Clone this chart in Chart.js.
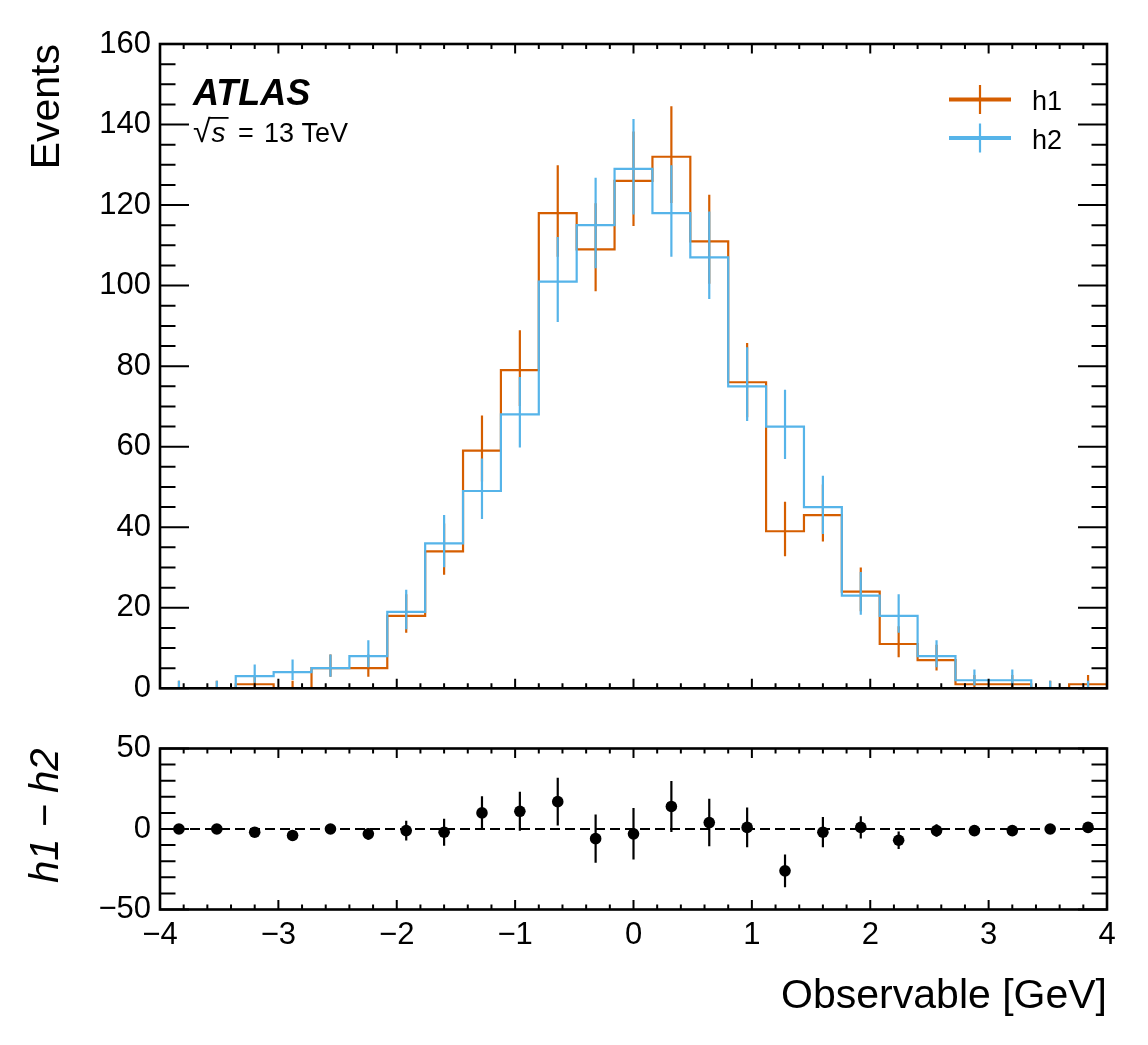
<!DOCTYPE html>
<html>
<head>
<meta charset="utf-8">
<title>h1 vs h2</title>
<script src="https://cdn.jsdelivr.net/npm/chart.js@4.4.1/dist/chart.umd.min.js"></script>
<style>
  html, body { margin: 0; padding: 0; background: #fff; }
  #wrap { position: relative; width: 1148px; height: 1045px; }
  canvas { position: absolute; left: 0; }
  #main-chart { top: 0; }
  #diff-chart { top: 700px; }
</style>
</head>
<body>
<div id="wrap">
  <canvas id="main-chart" width="1148" height="700"></canvas>
  <canvas id="diff-chart" width="1148" height="345"></canvas>
</div>
<script>
// bins of the observable, GeV
const binEdges = [-4.00, -3.68, -3.36, -3.04, -2.72, -2.40, -2.08, -1.76, -1.44, -1.12, -0.80, -0.48, -0.16,
                  0.16, 0.48, 0.80, 1.12, 1.44, 1.76, 2.08, 2.40, 2.72, 3.04, 3.36, 3.68, 4.00];
const h1Counts = [0, 0, 1, 0, 5, 5, 18, 34, 59, 79, 118, 109, 126, 132, 111, 76, 39, 43, 24, 11, 7, 1, 1, 0, 1];
const h2Counts = [0, 0, 3, 4, 5, 8, 19, 36, 49, 68, 101, 115, 129, 118, 107, 75, 65, 45, 23, 18, 8, 2, 2, 0, 0];
const seriesNames = ['h1', 'h2'];
const xTicks = [-4, -3, -2, -1, 0, 1, 2, 3, 4];
const eventsTicks = [0, 20, 40, 60, 80, 100, 120, 140, 160];
const diffTicks = [-50, 0, 50];

const seriesColors = ['#d55e00', '#56b4e9'];
const FONT = '"Liberation Sans", Arial, Helvetica, sans-serif';
const PLOT_LEFT = 160;
const PLOT_RIGHT_PAD = 41;

Chart.defaults.color = '#000';
Chart.defaults.font.family = FONT;

const binCenters = binEdges.slice(0, -1).map((e, i) => (e + binEdges[i + 1]) / 2);

function stepPoints(counts) {
    const pts = counts.map((c, i) => ({ x: binEdges[i], y: c }));
    pts.push({ x: binEdges[binEdges.length - 1], y: counts[counts.length - 1] });
    return pts;
}

// 68% Poisson interval, Gehrels approximation
function poissonUp(n) { return n + Math.sqrt(n + 0.75) + 1; }
function poissonDown(n) { return n === 0 ? 0 : n * Math.pow(1 - 1 / (9 * n) - 1 / (3 * Math.sqrt(n)), 3); }

function errorSegments(lo, hi) {
    const pts = [];
    binCenters.forEach((c, i) => {
        pts.push({ x: c, y: lo[i] }, { x: c, y: hi[i] }, { x: c, y: null });
    });
    return pts;
}

const minusSign = v => String(v).replace('-', '\u2212');

function isMultiple(v, step) {
    return Math.abs(v / step - Math.round(v / step)) < 1e-6;
}

// keep the plot frame where the layout padding puts it (no room for label overflow)
function fixWidth(s) {
    s.width = PLOT_LEFT;
    s.paddingTop = 0;
    s.paddingBottom = 0;
}

// inward ticks on all four sides plus the frame
const frameTicks = {
    id: 'frameTicks',
    afterDatasetsDraw(chart, args, opts) {
        const { ctx, chartArea: a } = chart;
        const x = chart.scales.x, y = chart.scales.y;
        ctx.save();
        ctx.strokeStyle = '#000';
        ctx.lineWidth = 2;
        ctx.beginPath();
        for (let i = 0; ; i++) {
            const v = x.min + i * opts.xMinor;
            if (v > x.max + 1e-9) break;
            const px = x.getPixelForValue(v);
            const len = isMultiple(v, opts.xMajor) ? 9.5 : 5;
            ctx.moveTo(px, a.bottom); ctx.lineTo(px, a.bottom - len);
            ctx.moveTo(px, a.top); ctx.lineTo(px, a.top + len);
        }
        for (let i = 0; ; i++) {
            const v = y.min + i * opts.yMinor;
            if (v > y.max + 1e-9) break;
            const py = y.getPixelForValue(v);
            const len = isMultiple(v, opts.yMajor) ? 29 : 15.5;
            ctx.moveTo(a.left, py); ctx.lineTo(a.left + len, py);
            ctx.moveTo(a.right, py); ctx.lineTo(a.right - len, py);
        }
        ctx.stroke();
        ctx.lineWidth = 2.6;
        ctx.strokeRect(a.left, a.top, a.right - a.left, a.bottom - a.top);
        ctx.restore();
    }
};

const topLabels = {
    id: 'topLabels',
    afterDraw(chart) {
        const ctx = chart.ctx;
        ctx.save();
        ctx.fillStyle = '#000';
        ctx.textBaseline = 'alphabetic';
        ctx.textAlign = 'left';

        ctx.font = `italic bold 36px ${FONT}`;
        ctx.fillText('ATLAS', 193, 105);

        // sqrt(s) = 13 TeV
        const base = 142;
        ctx.font = `32px ${FONT}`;
        ctx.fillText('\u221a', 193, base);
        const wRoot = ctx.measureText('\u221a').width;
        ctx.font = `italic 28px ${FONT}`;
        const sx = 193 + wRoot + 1;
        ctx.fillText('s', sx, base);
        const wS = ctx.measureText('s').width;
        ctx.fillRect(sx - 3, base - 25, wS + 6, 1.8);
        ctx.font = `27px ${FONT}`;
        ctx.fillText('=', 238, base);
        ctx.fillText('13 TeV', 264, base);

        // legend
        seriesNames.forEach((name, i) => {
            const yl = 99.5 + i * 38.5;
            ctx.strokeStyle = seriesColors[i];
            ctx.lineWidth = 4;
            ctx.beginPath(); ctx.moveTo(949, yl); ctx.lineTo(1011, yl); ctx.stroke();
            ctx.lineWidth = 2.2;
            ctx.beginPath(); ctx.moveTo(980, yl - 14.5); ctx.lineTo(980, yl + 14.5); ctx.stroke();
            ctx.font = `27px ${FONT}`;
            ctx.fillText(name, 1032, yl + 10.5);
        });
        ctx.restore();
    }
};

function histDatasets(counts, color, name, order) {
    return [
        {
            label: name + ' err',
            data: errorSegments(counts.map(poissonDown), counts.map(poissonUp)),
            borderColor: color,
            spanGaps: false,
            order: order
        },
        {
            label: name,
            data: stepPoints(counts),
            borderColor: color,
            stepped: true,
            order: order + 1
        }
    ];
}

const mainChart = new Chart(document.getElementById('main-chart'), {
    type: 'line',
    data: {
        datasets: [
            ...histDatasets(h2Counts, seriesColors[1], seriesNames[1], 0),
            ...histDatasets(h1Counts, seriesColors[0], seriesNames[0], 2)
        ]
    },
    options: {
        responsive: false,
        animation: false,
        layout: { padding: { top: 44, right: PLOT_RIGHT_PAD, bottom: 11.7, left: 0 } },
        elements: {
            point: { radius: 0, hoverRadius: 0 },
            line: { borderWidth: 2.2, fill: false, tension: 0, borderCapStyle: 'butt', borderJoinStyle: 'miter' }
        },
        plugins: {
            legend: { display: false },
            tooltip: { enabled: false },
            frameTicks: { xMajor: 1, xMinor: 0.2, yMajor: 20, yMinor: 5 }
        },
        scales: {
            x: { type: 'linear', min: -4, max: 4, display: false },
            y: {
                type: 'linear', min: 0, max: 160,
                afterFit: fixWidth,
                afterBuildTicks: s => { s.ticks = eventsTicks.map(v => ({ value: v })); },
                grid: { display: false, drawTicks: false },
                border: { display: false },
                ticks: { font: { size: 31 }, padding: 9, callback: minusSign },
                title: { display: true, text: 'Events', align: 'end', font: { size: 41 }, padding: { top: 23, bottom: 0 } }
            }
        }
    },
    plugins: [frameTicks, topLabels]
});

const diffValues = h1Counts.map((v, i) => v - h2Counts[i]);
const diffErrors = h1Counts.map((v, i) => Math.sqrt(v + h2Counts[i]));

const diffChart = new Chart(document.getElementById('diff-chart'), {
    type: 'line',
    data: {
        datasets: [
            {
                label: 'h1 \u2212 h2',
                data: binCenters.map((c, i) => ({ x: c, y: diffValues[i] })),
                showLine: false,
                pointRadius: 5.8,
                pointBackgroundColor: '#000',
                pointBorderWidth: 0,
                order: 0
            },
            {
                label: 'diff err',
                data: errorSegments(diffValues.map((d, i) => d - diffErrors[i]), diffValues.map((d, i) => d + diffErrors[i])),
                borderColor: '#000',
                spanGaps: false,
                order: 1
            },
            {
                label: 'zero',
                data: [{ x: -4, y: 0 }, { x: 4, y: 0 }],
                borderColor: '#000',
                borderWidth: 2.2,
                borderDash: [10, 5],
                order: 2
            }
        ]
    },
    options: {
        responsive: false,
        animation: false,
        layout: { padding: { top: 48.5, right: PLOT_RIGHT_PAD, bottom: 0, left: 0 } },
        elements: {
            point: { radius: 0, hoverRadius: 0 },
            line: { borderWidth: 2.2, fill: false, tension: 0, borderCapStyle: 'butt' }
        },
        plugins: {
            legend: { display: false },
            tooltip: { enabled: false },
            frameTicks: { xMajor: 1, xMinor: 0.2, yMajor: 50, yMinor: 10 }
        },
        scales: {
            x: {
                type: 'linear', min: -4, max: 4,
                afterFit: s => { s.height = 345 - 209.5; },
                afterBuildTicks: s => { s.ticks = xTicks.map(v => ({ value: v })); },
                grid: { display: false, drawTicks: false },
                border: { display: false },
                ticks: { font: { size: 31 }, padding: 7, maxRotation: 0, autoSkip: false, callback: minusSign },
                title: { display: true, text: 'Observable [GeV]', align: 'end', font: { size: 41 }, padding: { top: 0, bottom: 24 } }
            },
            y: {
                type: 'linear', min: -50, max: 50,
                afterFit: fixWidth,
                afterBuildTicks: s => { s.ticks = diffTicks.map(v => ({ value: v })); },
                grid: { display: false, drawTicks: false },
                border: { display: false },
                ticks: { font: { size: 31 }, padding: 9, callback: minusSign },
                title: { display: true, text: 'h1 \u2212 h2', align: 'end', font: { size: 40, style: 'italic' }, padding: { top: 23, bottom: 0 } }
            }
        }
    },
    plugins: [frameTicks]
});
</script>
</body>
</html>
